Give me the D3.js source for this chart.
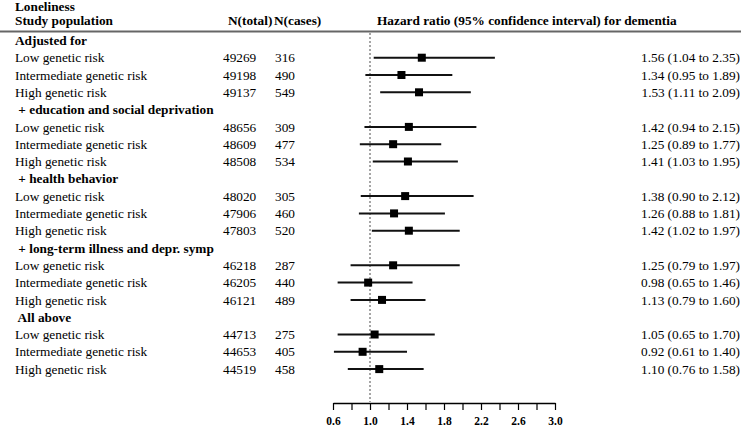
<!DOCTYPE html>
<html>
<head>
<meta charset="utf-8">
<script src="https://cdn.jsdelivr.net/npm/d3@7"></script>
<style>
  html, body { margin: 0; padding: 0; background: #fff; }
  svg { display: block; font-family: "Liberation Serif", "Times New Roman", serif; }
</style>
</head>
<body>
<svg id="chart" width="744" height="428"></svg>
<script>
// ---- data ----
const title = "Loneliness";
const headers = ["Study population", "N(total)", "N(cases)", "Hazard ratio (95% confidence interval) for dementia"];
const groups = ["Adjusted for", " + education and social deprivation", " + health behavior", " + long-term illness and depr. symp", " All above"];
const riskLevels = ["Low genetic risk", "Intermediate genetic risk", "High genetic risk"];
const nTotal = [49269, 49198, 49137, 48656, 48609, 48508, 48020, 47906, 47803, 46218, 46205, 46121, 44713, 44653, 44519];
const nCases = [316, 490, 549, 309, 477, 534, 305, 460, 520, 287, 440, 489, 275, 405, 458];
const hr = [1.56, 1.34, 1.53, 1.42, 1.25, 1.41, 1.38, 1.26, 1.42, 1.25, 0.98, 1.13, 1.05, 0.92, 1.10];
const lo = [1.04, 0.95, 1.11, 0.94, 0.89, 1.03, 0.90, 0.88, 1.02, 0.79, 0.65, 0.79, 0.65, 0.61, 0.76];
const hi = [2.35, 1.89, 2.09, 2.15, 1.77, 1.95, 2.12, 1.81, 1.97, 1.97, 1.46, 1.60, 1.70, 1.40, 1.58];
const tickValues = [0.6, 0.8, 1.0, 1.2, 1.4, 1.6, 1.8, 2.0, 2.2, 2.4, 2.6, 2.8, 3.0];
const tickLabels = ["0.6", "1.0", "1.4", "1.8", "2.2", "2.6", "3.0"];
const refValue = 1.0;

// ---- build rows ----
const rows = [];
groups.forEach((g, gi) => {
  rows.push({ type: "head", label: g });
  riskLevels.forEach((r, ri) => {
    const k = gi * riskLevels.length + ri;
    rows.push({ type: "item", label: r, nt: nTotal[k], nc: nCases[k], hr: hr[k], lo: lo[k], hi: hi[k] });
  });
});

const svg = d3.select("#chart");
const fs = 13.3;

const x = d3.scaleLinear().domain([0.6, 3.0]).range([333, 555]);
const y = d3.scalePoint().domain(d3.range(rows.length)).range([40.4, 369.1]);

// title and headers
svg.append("text").attr("x", 15).attr("y", 11).attr("font-size", fs).attr("font-weight", "bold").text(title);
const hx = [15, 228, 274, 377];
headers.forEach((h, i) => {
  svg.append("text").attr("x", hx[i]).attr("y", 25).attr("font-size", fs).attr("font-weight", "bold").text(h);
});
svg.append("line").attr("x1", 0).attr("x2", 741).attr("y1", 31.5).attr("y2", 31.5)
  .attr("stroke", "#666").attr("stroke-width", 2);

// reference line
svg.append("line").attr("x1", x(refValue)).attr("x2", x(refValue)).attr("y1", 33).attr("y2", 402)
  .attr("stroke", "#888").attr("stroke-width", 1.5).attr("stroke-dasharray", "2,2");

// rows
const g = svg.append("g");
rows.forEach((r, i) => {
  const yy = y(i);
  const by = yy + 4.6;
  if (r.type === "head") {
    g.append("text").attr("x", 15).attr("y", by).attr("font-size", fs).attr("font-weight", "bold")
      .style("white-space", "pre").text(r.label);
  } else {
    g.append("text").attr("x", 15).attr("y", by).attr("font-size", fs).text(r.label);
    g.append("text").attr("x", 223).attr("y", by).attr("font-size", fs).text(r.nt);
    g.append("text").attr("x", 275).attr("y", by).attr("font-size", fs).text(r.nc);
    g.append("text").attr("x", 740).attr("y", by).attr("font-size", fs).attr("text-anchor", "end")
      .text(`${r.hr.toFixed(2)} (${r.lo.toFixed(2)} to ${r.hi.toFixed(2)})`);
    g.append("line").attr("x1", x(r.lo)).attr("x2", x(r.hi)).attr("y1", yy).attr("y2", yy)
      .attr("stroke", "#111").attr("stroke-width", 2);
    g.append("rect").attr("x", x(r.hr) - 4).attr("y", yy - 4).attr("width", 8).attr("height", 8).attr("fill", "#000");
  }
});

// axis
const axis = d3.axisBottom(x).tickValues(tickValues).tickSize(7).tickSizeOuter(0)
  .tickFormat(d => { const s = d.toFixed(1); return tickLabels.includes(s) ? s : ""; });
const ax = svg.append("g").attr("transform", "translate(0,403)").call(axis);
ax.select(".domain").attr("stroke", "#000").attr("stroke-width", 1.5);
ax.selectAll(".tick line").attr("stroke", "#000").attr("stroke-width", 1.2);
ax.selectAll(".tick text").attr("font-family", "Liberation Serif, serif").attr("font-size", 11.5)
  .attr("font-weight", "bold").attr("fill", "#000").attr("y", 14).attr("dy", "0.71em");
</script>
</body>
</html>
